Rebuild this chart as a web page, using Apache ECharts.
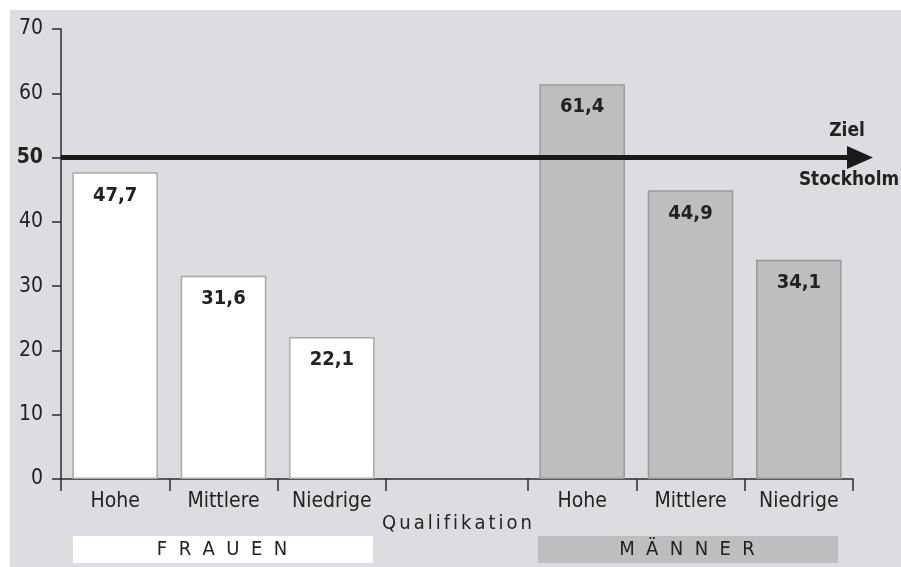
<!DOCTYPE html>
<html>
<head>
<meta charset="utf-8">
<script src="https://cdn.jsdelivr.net/npm/echarts@6/dist/echarts.min.js"></script>
<style>
  html, body { margin: 0; padding: 0; background: #fff; }
  #chart { width: 901px; height: 567px; }
</style>
</head>
<body>
<div id="chart"></div>
<script>
// Daten
const categories = ['Hohe', 'Mittlere', 'Niedrige'];
const frauenValues = [47.7, 31.6, 22.1];
const maennerValues = [61.4, 44.9, 34.1];
const yMin = 0;
const yMax = 70;
const yStep = 10;
const zielValue = 50;
const zielLabels = ['Ziel', 'Stockholm'];
const axisTitle = 'Qualifikation';
const groupNames = ['FRAUEN', 'MÄNNER'];

const FONT = "'DejaVu Sans Condensed', 'DejaVu Sans', sans-serif";
const INK = '#222';
const AXIS = '#2b2b2b';

const comma = (v) => String(v).replace('.', ',');
const spaced = (s, sep) => s.split('').join(sep);

const chart = echarts.init(document.getElementById('chart'));

const hiddenY = (idx) => ({
  type: 'value', gridIndex: idx, min: yMin, max: yMax, interval: yStep, show: false
});

const catAxis = (idx, data, extra) => Object.assign({
  type: 'category',
  gridIndex: idx,
  data: data,
  axisLine: { lineStyle: { color: AXIS, width: 1.5 } },
  axisTick: { show: true, length: 12, lineStyle: { color: AXIS, width: 1.5 } },
  axisLabel: { color: INK, fontFamily: FONT, fontSize: 21, margin: 12 }
}, extra || {});

const barLabel = {
  show: true,
  position: 'insideTop',
  distance: 13,
  color: INK,
  fontFamily: FONT,
  fontWeight: 'bold',
  fontSize: 20,
  formatter: (p) => comma(p.value)
};

const option = {
  backgroundColor: '#fff',
  animation: false,
  graphic: [
    { type: 'rect', z: -10, shape: { x: 10, y: 10, width: 891, height: 557 }, style: { fill: '#dcdde0' } },
    { type: 'rect', z: -5, shape: { x: 73, y: 536, width: 300, height: 27 }, style: { fill: '#fff' } },
    { type: 'text', z: -4, x: 222, y: 550, style: { text: spaced(groupNames[0], '  '), fill: INK, font: '20px ' + FONT, align: 'center', verticalAlign: 'middle' } },
    { type: 'rect', z: -5, shape: { x: 538, y: 536, width: 300, height: 27 }, style: { fill: '#bdbec0' } },
    { type: 'text', z: -4, x: 687, y: 550, style: { text: spaced(groupNames[1], '  '), fill: INK, font: '20px ' + FONT, align: 'center', verticalAlign: 'middle' } },
    { type: 'text', x: 847, y: 131, scaleX: 0.95, style: { text: zielLabels[0], fill: INK, font: 'bold 20px ' + FONT, align: 'center', verticalAlign: 'middle' } },
    { type: 'text', x: 849, y: 180, scaleX: 0.94, style: { text: zielLabels[1], fill: INK, font: 'bold 20px ' + FONT, align: 'center', verticalAlign: 'middle' } }
  ],
  grid: [
    { left: 61, top: 29, width: 325, height: 450 },
    { left: 386, top: 29, width: 142, height: 450 },
    { left: 528, top: 29, width: 325, height: 450 },
    { left: 61, top: 29, width: 799, height: 450 }
  ],
  xAxis: [
    catAxis(0, categories),
    catAxis(1, [axisTitle], {
      axisLabel: { color: INK, fontFamily: FONT, fontSize: 20, margin: 35, formatter: (v) => spaced(v, '\u2006') }
    }),
    catAxis(2, categories),
    { type: 'value', gridIndex: 3, min: 0, max: 1, show: false }
  ],
  yAxis: [
    {
      type: 'value',
      gridIndex: 0,
      min: yMin,
      max: yMax,
      interval: yStep,
      axisLine: { show: true, lineStyle: { color: AXIS, width: 1.5 } },
      axisTick: { show: true, length: 9, lineStyle: { color: AXIS, width: 1.5 } },
      splitLine: { show: false },
      axisLabel: {
        margin: 18,
        color: INK,
        fontFamily: FONT,
        fontSize: 21,
        formatter: (v) => (v === zielValue ? '{b|' + v + '}' : String(v)),
        rich: { b: { fontFamily: FONT, fontSize: 21, fontWeight: 'bold', color: INK } }
      }
    },
    hiddenY(1),
    hiddenY(2),
    hiddenY(3)
  ],
  series: [
    {
      name: groupNames[0],
      type: 'bar',
      xAxisIndex: 0,
      yAxisIndex: 0,
      data: frauenValues,
      barCategoryGap: '21%',
      itemStyle: { color: '#fff', borderColor: '#a8a8a8', borderWidth: 1.5 },
      label: barLabel
    },
    {
      name: groupNames[1],
      type: 'bar',
      xAxisIndex: 2,
      yAxisIndex: 2,
      data: maennerValues,
      barCategoryGap: '21%',
      itemStyle: { color: '#bdbec0', borderColor: '#999a9c', borderWidth: 1.5 },
      label: barLabel
    },
    {
      // Ziel-Pfeil
      type: 'line',
      xAxisIndex: 3,
      yAxisIndex: 3,
      data: [],
      z: 5,
      markLine: {
        silent: true,
        symbol: ['none', 'triangle'],
        symbolSize: [23, 26],
        label: { show: false },
        lineStyle: { color: '#1a1a1a', width: 5, type: 'solid' },
        data: [[{ coord: [0, zielValue] }, { coord: [1, zielValue] }]]
      }
    }
  ]
};

chart.setOption(option);
</script>
</body>
</html>
